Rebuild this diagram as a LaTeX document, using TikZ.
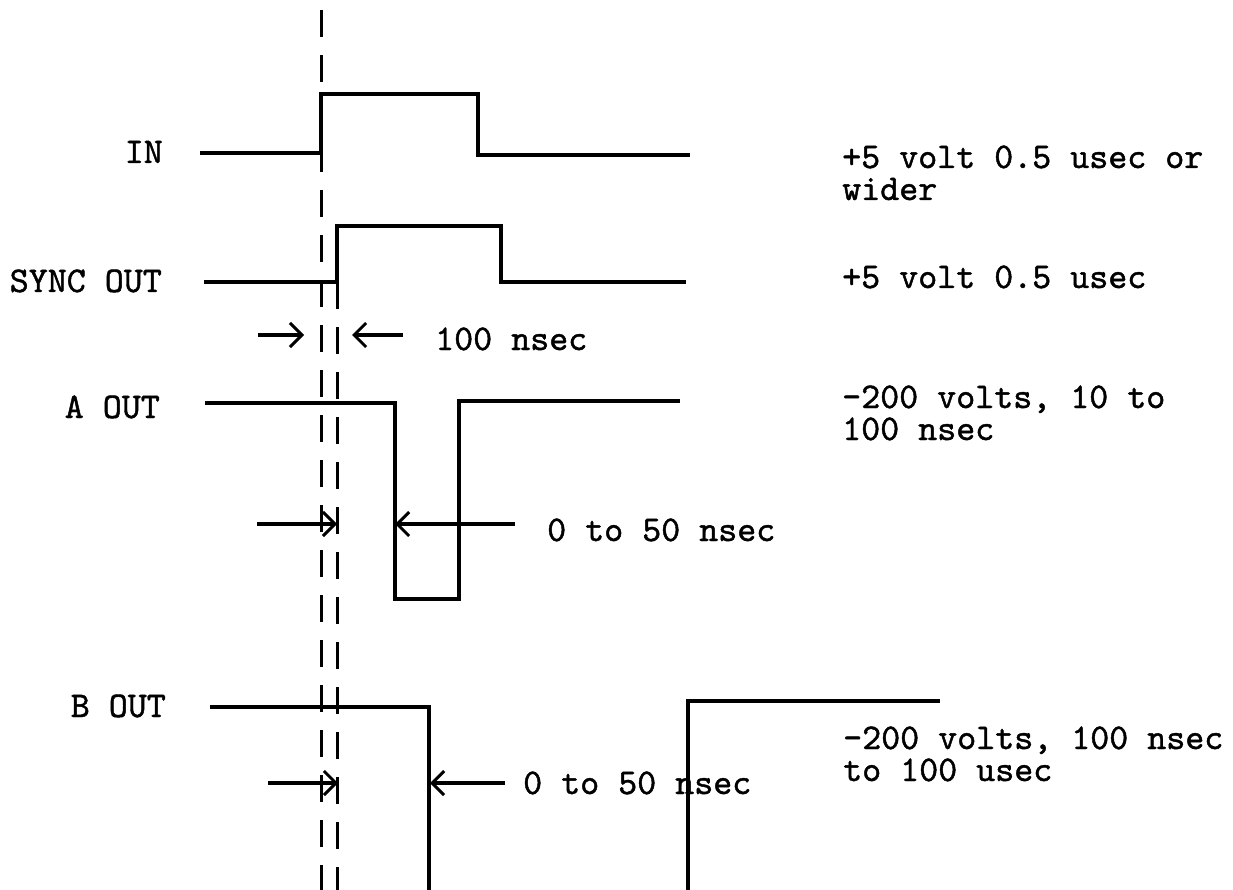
\documentclass[tikz,border=0pt]{standalone}
\usepackage{fontspec}
\newfontfamily\tw[FakeBold=1.2]{lmmono10-regular.otf}
\usetikzlibrary{arrows.meta}
\begin{document}
\begin{tikzpicture}[x=1pt,y=-1pt,
  wave/.style={line width=3.8pt, line join=miter, line cap=butt},
  guide/.style={line width=3pt, dash pattern=on 27pt off 18pt},
  dimarrow/.style={line width=3.6pt, -{Straight Barb[length=12pt,width=24pt,line width=3pt]}},
  lbl/.style={font=\fontsize{36.2}{32}\selectfont\tw, inner sep=0pt},
  lbltwo/.style={lbl, align=left},
]
\useasboundingbox (0,0) rectangle (1233,890);
\fill[white] (0,0) rectangle (1233,890);

% left labels
\node[lbl, anchor=base east] (lin)   at (163,163) {IN};
\node[lbl, anchor=base east] (lsync) at (162,292) {SYNC OUT};
\node[lbl, anchor=base east] (la)    at (160,418) {A OUT};
\node[lbl, anchor=base east] (lb)    at (166,717) {B OUT};

% right labels (anchor base = baseline of the last line)
\node[lbltwo, anchor=base west] (r1) at (842,200) {+5 volt 0.5 usec or\\wider};
\node[lbl, anchor=base west] (r2)  at (842,288) {+5 volt 0.5 usec};
\node[lbltwo, anchor=base west] (r3) at (842,440) {-200 volts, 10 to\\100 nsec};
\node[lbltwo, anchor=base west] (r4) at (843,781) {-200 volts, 100 nsec\\to 100 usec};

% dimension labels
\node[lbl, anchor=base west] (d1) at (435,350) {100 nsec};
\node[lbl, anchor=base west] (d2) at (547,541) {0 to 50 nsec};
\node[lbl, anchor=base west] (d3) at (523,794) {0 to 50 nsec};

% guide lines
\coordinate (g1t) at (321,10);  \coordinate (g1b) at (321,892);
\coordinate (g2t) at (337,282); \coordinate (g2b) at (337,892);
\draw[guide] (g1t) -- (g1b);
\draw[guide] (g2t) -- (g2b);

% waveforms
\draw[wave] (200,153) -- (321,153) -- (321,94) -- (478,94) -- (478,155) -- (690,155);
\draw[wave] (204,282) -- (337,282) -- (337,226) -- (501,226) -- (501,282) -- (686,282);
\draw[wave] (205,403) -- (395,403) -- (395,599) -- (459,599) -- (459,401) -- (680,401);
\draw[wave] (210,707) -- (429,707) -- (429,893);
\draw[wave] (688,893) -- (688,701) -- (940,701);

% dimension arrows
\coordinate (a1s) at (258,335); \coordinate (a1e) at (304,335);
\coordinate (a2s) at (403,335); \coordinate (a2e) at (352,335);
\coordinate (b1s) at (257,524); \coordinate (b1e) at (337,524);
\coordinate (b2s) at (515,524); \coordinate (b2e) at (395,524);
\coordinate (c1s) at (268,783); \coordinate (c1e) at (338,783);
\coordinate (c2s) at (505,783); \coordinate (c2e) at (430,783);
\draw[dimarrow] (a1s) -- (a1e);
\draw[dimarrow] (a2s) -- (a2e);
\draw[dimarrow] (b1s) -- (b1e);
\draw[dimarrow] (b2s) -- (b2e);
\draw[dimarrow] (c1s) -- (c1e);
\draw[dimarrow] (c2s) -- (c2e);
\end{tikzpicture}
\end{document}
